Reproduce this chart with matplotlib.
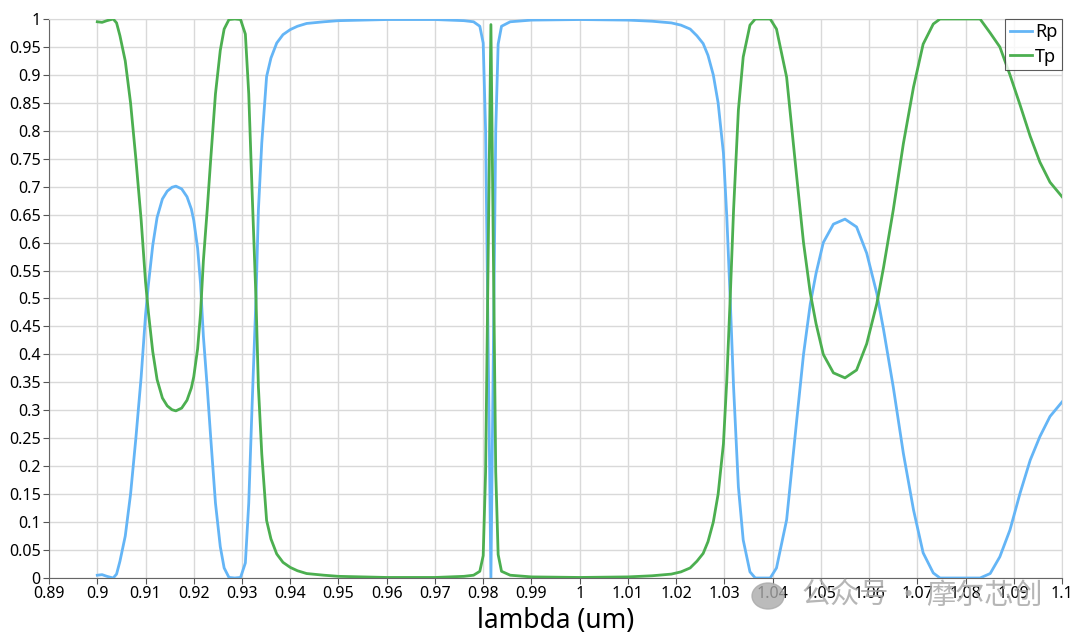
import matplotlib
matplotlib.use("Agg")
import matplotlib.pyplot as plt
from matplotlib.patches import Ellipse

plt.rcParams['font.family'] = ['Noto Sans', 'Noto Sans CJK SC', 'DejaVu Sans']

# wavelength (um) and reflectance / transmittance
lam = [0.9000, 0.9010, 0.9020, 0.9033, 0.9040, 0.9047, 0.9058, 0.9069, 0.9080, 0.9091,
       0.9100, 0.9106, 0.9115, 0.9124, 0.9135, 0.9145, 0.9155, 0.9163, 0.9175, 0.9186,
       0.9195, 0.9200, 0.9208, 0.9214, 0.9220, 0.9228, 0.9235, 0.9245, 0.9255, 0.9263,
       0.9273, 0.9285, 0.9297, 0.9307, 0.9314, 0.9321, 0.9329, 0.9334, 0.9341, 0.9351,
       0.9360, 0.9372, 0.9385, 0.9400, 0.9415, 0.9434, 0.9470, 0.9500, 0.9600, 0.9700,
       0.9760, 0.9780, 0.9793, 0.9800, 0.9805, 0.9816, 0.9826, 0.9831, 0.9838, 0.9856,
       0.9900, 1.0000, 1.0100, 1.0150, 1.0190, 1.0210, 1.0229, 1.0243, 1.0256, 1.0266,
       1.0277, 1.0287, 1.0298, 1.0305, 1.0312, 1.0319, 1.0329, 1.0339, 1.0353, 1.0364,
       1.0395, 1.0408, 1.0429, 1.0450, 1.0464, 1.0478, 1.0490, 1.0505, 1.0526, 1.0550,
       1.0574, 1.0595, 1.0616, 1.0630, 1.0650, 1.0671, 1.0692, 1.0712, 1.0733, 1.0747,
       1.0830, 1.0851, 1.0871, 1.0892, 1.0913, 1.0934, 1.0954, 1.0975, 1.1000]

Rp = [0.005, 0.006, 0.003, 0.000, 0.007, 0.030, 0.075, 0.150, 0.250, 0.360,
      0.470, 0.525, 0.595, 0.645, 0.678, 0.692, 0.699, 0.701, 0.696, 0.682,
      0.660, 0.640, 0.590, 0.527, 0.432, 0.340, 0.253, 0.134, 0.056, 0.018,
      0.001, 0.000, 0.001, 0.027, 0.134, 0.310, 0.500, 0.658, 0.778, 0.897,
      0.930, 0.957, 0.972, 0.981, 0.987, 0.992, 0.995, 0.997, 0.999, 0.999,
      0.997, 0.995, 0.987, 0.957, 0.800, 0.000, 0.800, 0.955, 0.987, 0.995,
      0.998, 0.999, 0.998, 0.996, 0.993, 0.989, 0.982, 0.970, 0.956, 0.935,
      0.900, 0.850, 0.760, 0.646, 0.500, 0.342, 0.163, 0.068, 0.011, 0.000,
      0.000, 0.018, 0.104, 0.283, 0.400, 0.490, 0.545, 0.600, 0.633, 0.642,
      0.628, 0.581, 0.509, 0.444, 0.342, 0.223, 0.122, 0.045, 0.009, 0.000,
      0.000, 0.008, 0.038, 0.086, 0.152, 0.211, 0.253, 0.289, 0.315]

Tp = [0.995, 0.994, 0.997, 1.000, 0.993, 0.970, 0.925, 0.850, 0.750, 0.640,
      0.530, 0.475, 0.405, 0.355, 0.322, 0.308, 0.301, 0.299, 0.304, 0.318,
      0.340, 0.360, 0.410, 0.473, 0.568, 0.660, 0.747, 0.866, 0.944, 0.982,
      0.999, 1.000, 0.999, 0.973, 0.866, 0.690, 0.500, 0.342, 0.222, 0.103,
      0.070, 0.043, 0.028, 0.019, 0.013, 0.008, 0.005, 0.003, 0.001, 0.001,
      0.003, 0.005, 0.012, 0.040, 0.190, 0.990, 0.190, 0.042, 0.012, 0.005,
      0.002, 0.001, 0.002, 0.004, 0.007, 0.011, 0.018, 0.030, 0.044, 0.065,
      0.100, 0.150, 0.240, 0.354, 0.500, 0.658, 0.837, 0.932, 0.989, 1.000,
      1.000, 0.982, 0.896, 0.717, 0.600, 0.510, 0.455, 0.400, 0.367, 0.358,
      0.372, 0.419, 0.491, 0.556, 0.658, 0.777, 0.878, 0.955, 0.991, 1.000,
      1.000, 0.975, 0.950, 0.900, 0.846, 0.790, 0.744, 0.708, 0.682]

xticks = [round(0.89 + 0.01 * i, 2) for i in range(22)]
yticks = [round(0.05 * i, 2) for i in range(21)]

fig = plt.figure(figsize=(10.8, 6.37), dpi=100)
ax = fig.add_axes([0.0454, 0.0926, 0.938, 0.8776])

ax.plot(lam, Rp, color='#64b5f6', lw=2.0, label='Rp', zorder=3)
ax.plot(lam, Tp, color='#4caf50', lw=2.0, label='Tp', zorder=3)

ax.set_xlim(0.89, 1.1)
ax.set_ylim(0, 1)
ax.set_xticks(xticks)
ax.set_xticklabels([('%g' % t) for t in xticks])
ax.set_yticks(yticks)
ax.set_yticklabels([('%g' % t) for t in yticks])
ax.tick_params(axis='both', labelsize=11.5, length=4, color='#555555', pad=2)
ax.grid(True, color='#d9d9d9', lw=1.0)
ax.set_axisbelow(True)
for s in ['top', 'right']:
    ax.spines[s].set_color('#d9d9d9')
for s in ['left', 'bottom']:
    ax.spines[s].set_color('#666666')
ax.set_xlabel('lambda (um)', fontsize=19, labelpad=3)

leg = ax.legend(loc='upper right', fontsize=13, frameon=True, fancybox=False,
                borderaxespad=0, handlelength=1.2, handletextpad=0.2,
                borderpad=0.25, labelspacing=0.35)
leg.get_frame().set_edgecolor('#333333')
leg.get_frame().set_linewidth(0.8)

# watermark
fig.add_artist(Ellipse((768 / 1080, 1 - 596 / 637), 32 / 1080, 26 / 637,
                       transform=fig.transFigure, color='#aaaaaa', alpha=0.8))
wm = dict(fontsize=21, color='#aaaaaa', alpha=0.85, va='center',
          family=['Noto Sans CJK SC', 'DejaVu Sans'])
fig.text(802 / 1080, 1 - 596 / 637, '公众号', ha='left', **wm)
fig.text(908 / 1080, 1 - 596 / 637, '·', ha='center', **wm)
fig.text(926 / 1080, 1 - 596 / 637, '摩尔芯创', ha='left', **wm)

fig.savefig('out.png', dpi=100)
